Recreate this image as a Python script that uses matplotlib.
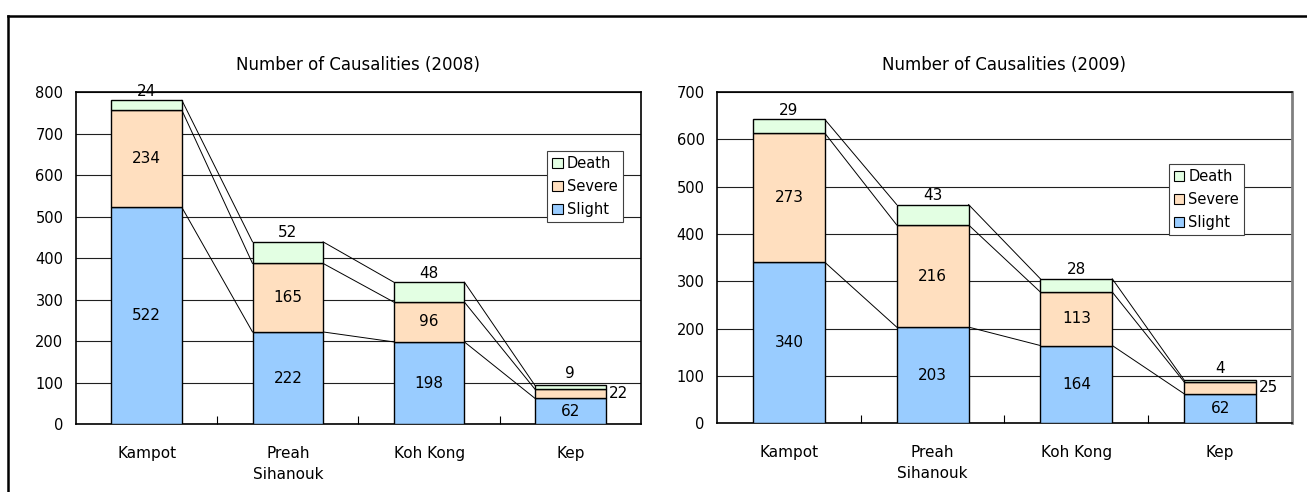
import numpy as np
import matplotlib.pyplot as plt
from matplotlib.lines import Line2D

plt.rcParams['font.family'] = ['DejaVu Sans']

provinces = ["Kampot", "Preah\nSihanouk", "Koh Kong", "Kep"]
series_names = ["Slight", "Severe", "Death"]

slight_2008 = [522, 222, 198, 62]
severe_2008 = [234, 165, 96, 22]
death_2008 = [24, 52, 48, 9]

slight_2009 = [340, 203, 164, 62]
severe_2009 = [273, 216, 113, 25]
death_2009 = [29, 43, 28, 4]

colors = ["#99ccff", "#ffdfbf", "#e3ffe3"]


def stacked(ax, title, series, ymax, right_gray=False):
    x = np.arange(len(provinces))
    w = 0.5
    bottom = np.zeros(len(provinces))
    tops = []
    for k, vals in enumerate(series):
        vals = np.array(vals, dtype=float)
        ax.bar(x, vals, w, bottom=bottom, color=colors[k], edgecolor='black',
               linewidth=1.0, zorder=3)
        mid = bottom + vals / 2
        for i, v in enumerate(vals):
            if k == 2:
                # top segment: value goes above the bar
                off = 1 if v >= 20 else 3
                ax.annotate(str(int(v)), (x[i], bottom[i] + v), xytext=(0, off),
                            textcoords='offset points', ha='center', va='bottom',
                            fontsize=11, zorder=5)
            elif v >= 40:
                ax.text(x[i], mid[i], str(int(v)), ha='center', va='center',
                        fontsize=11, zorder=5)
            else:
                ax.annotate(str(int(v)), (x[i] + w / 2, mid[i]), xytext=(2, 0),
                            textcoords='offset points', ha='left', va='center',
                            fontsize=11, zorder=5)
        bottom = bottom + vals
        tops.append(bottom.copy())

    # series lines between neighbouring columns
    for t in tops:
        for i in range(len(provinces) - 1):
            ax.plot([x[i] + w / 2, x[i + 1] - w / 2], [t[i], t[i + 1]],
                    color='black', lw=0.7, zorder=2)

    ax.set_xlim(-0.5, len(provinces) - 0.5)
    ax.set_ylim(0, ymax)
    ax.set_yticks(np.arange(0, ymax + 1, 100))
    ax.set_xticks(x)
    ax.set_xticklabels(provinces, fontsize=11, linespacing=1.5)
    ax.set_xticks(x[:-1] + 0.5, minor=True)
    ax.tick_params(axis='x', which='major', length=0, pad=16)
    ax.tick_params(axis='x', which='minor', direction='in', length=6, width=0.8)
    ax.tick_params(axis='y', length=0, pad=9, labelsize=10.5)
    ax.grid(axis='y', color='#202020', lw=0.8, zorder=0)
    ax.set_axisbelow(True)
    for s in ax.spines.values():
        s.set_linewidth(1.2)
        s.set_color('black')
    if right_gray:
        ax.spines['right'].set_color('#808080')
        ax.spines['right'].set_linewidth(2)
    ax.set_title(title, fontsize=12, pad=16)


fig = plt.figure(figsize=(13.07, 4.92), dpi=100)
ax1 = fig.add_axes([0.0581, 0.138, 0.4323, 0.675])
ax2 = fig.add_axes([0.5486, 0.140, 0.4399, 0.673])

stacked(ax1, "Number of Causalities (2008)",
        [slight_2008, severe_2008, death_2008], 800)
stacked(ax2, "Number of Causalities (2009)",
        [slight_2009, severe_2009, death_2009], 700, right_gray=True)

for ax, anchor in [(ax1, (0.968, 0.822)), (ax2, (0.917, 0.782))]:
    handles = [plt.Rectangle((0, 0), 1, 1, facecolor=colors[k], edgecolor='black', lw=0.8)
               for k in (2, 1, 0)]
    leg = ax.legend(handles, [series_names[k] for k in (2, 1, 0)],
                    loc='upper right', bbox_to_anchor=anchor, fontsize=10.5,
                    fancybox=False, framealpha=1, edgecolor='#404040',
                    handlelength=0.7, handleheight=0.7, handletextpad=0.3,
                    borderpad=0.35, labelspacing=0.55, borderaxespad=0)
    leg.get_frame().set_linewidth(0.8)
    leg.set_zorder(6)

# outer frame (top and left edges)
top = 1 - 16 / 492
left = 8 / 1307
fig.add_artist(Line2D([left, 1], [top, top], color='black', lw=1.8))
fig.add_artist(Line2D([left, left], [0, top], color='black', lw=1.8))

fig.savefig("out.png", dpi=100)
